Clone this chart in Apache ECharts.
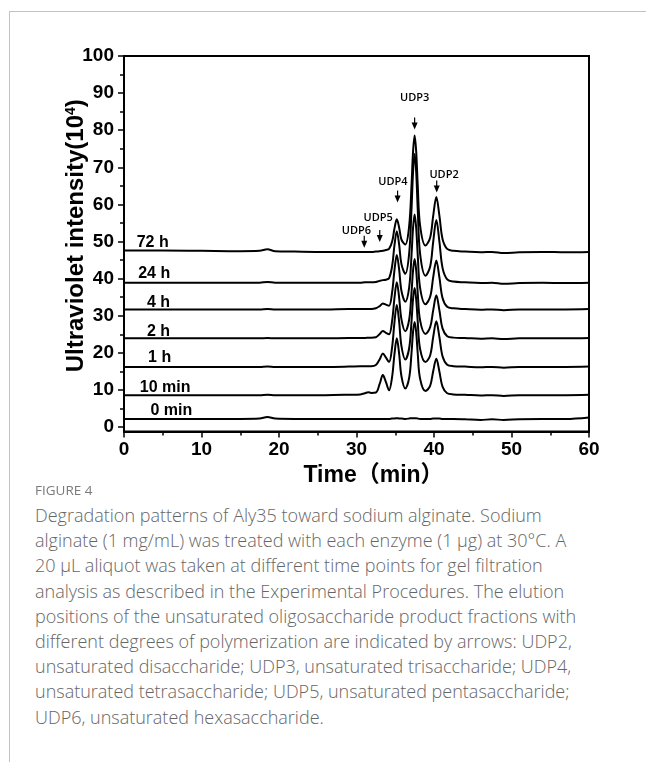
<!DOCTYPE html>
<html><head><meta charset="utf-8">
<script src="https://cdn.jsdelivr.net/npm/echarts@6/dist/echarts.min.js"></script>
<style>
html,body{margin:0;padding:0;background:#fff;width:646px;height:762px;overflow:hidden;}
#card{position:absolute;left:9px;top:11px;width:700px;height:800px;border-top:1px solid #c2c2c2;border-left:1px solid #c2c2c2;}
#chart{position:absolute;left:0;top:0;width:646px;height:500px;}
#fig{position:absolute;left:35px;top:481px;font:400 13.5px/18px 'Open Sans',sans-serif;color:#7a7a7a;}
#cap{position:absolute;left:35px;top:503px;font:300 18px/25.2px 'Open Sans',sans-serif;color:#666;white-space:nowrap;}
</style></head>
<body>
<div id="card"></div>
<div id="chart"></div>
<div id="fig">FIGURE 4</div>
<div id="cap">Degradation patterns of Aly35 toward sodium alginate. Sodium<br>alginate (1 mg/mL) was treated with each enzyme (1 μg) at 30°C. A<br>20 μL aliquot was taken at different time points for gel filtration<br>analysis as described in the Experimental Procedures. The elution<br>positions of the unsaturated oligosaccharide product fractions with<br>different degrees of polymerization are indicated by arrows: UDP2,<br>unsaturated disaccharide; UDP3, unsaturated trisaccharide; UDP4,<br>unsaturated tetrasaccharide; UDP5, unsaturated pentasaccharide;<br>UDP6, unsaturated hexasaccharide.</div>
<script>
// ---- data ----
const times = [0,5,10,15,17.5,18.5,19.5,22,26,29,30.5,31.1,31.5,31.9,32.5,33.0,33.4,33.8,34.2,34.6,34.9,35.2,35.5,35.8,36.3,36.8,37.1,37.3,37.5,37.7,37.9,38.2,38.9,39.5,39.9,40.3,40.7,41.1,41.7,42.5,44,46,47.5,49,51,54,57,60];
const trace0min = [2.2,2.2,2.2,2.2,2.3, 2.7,2.3,2.2,2.2,2.2, 2.2,2.2,2.2,2.2,2.2, 2.2,2.2,2.2,2.2,2.3, 2.3,2.4,2.3,2.3,2.2, 2.3,2.4,2.4,2.4,2.4, 2.3,2.2,2.2,2.2,2.3, 2.3,2.3,2.2,2.2,2.2, 2.1,1.9,2.1,1.9,2.1, 2.2,2.2,2.6];
const trace10min = [8.6,8.6,8.6,8.6,8.6, 8.7,8.6,8.6,8.6,8.7, 8.8,9.1,9.4,9.2,9.3, 11.7,14.0,12.1,9.9,13.6, 19.7,23.9,19.8,13.7,10.4, 13.3,20.0,25.7,28.3,25.6, 19.9,13.1,9.7,11.1,15.1, 18.4,14.9,10.9,9.1,8.8, 8.7,8.5,8.6,8.4,8.6, 8.6,8.6,8.7];
const trace1h = [16.2,16.2,16.2,16.2,16.2, 16.3,16.2,16.2,16.2,16.3, 16.4,16.4,16.4,16.4,16.7, 18.3,19.8,18.7,17.5,21.6, 28.3,32.9,28.4,21.8,18.2, 21.3,28.5,34.6,37.5,34.5, 28.5,21.1,17.5,19.3,24.3, 28.5,24.2,19.1,16.8,16.4, 16.3,16.1,16.2,16.0,16.2, 16.2,16.2,16.3];
const trace2h = [23.9,23.9,23.9,23.9,23.9, 24.0,23.9,23.9,23.9,24.0, 24.0,24.0,24.1,24.1,24.2, 25.1,25.9,25.4,25.0,28.7, 34.8,39.0,34.9,29.0,25.8, 29.0,36.3,42.3,45.3,42.3, 36.2,28.8,25.1,26.9,31.5, 35.5,31.4,26.6,24.5,24.1, 24.0,23.8,23.9,23.7,23.9, 23.9,23.9,24.0];
const trace4h = [31.7,31.7,31.7,31.7,31.7, 31.8,31.7,31.7,31.7,31.8, 31.8,31.8,31.8,31.8,32.0, 32.6,33.3,33.0,32.7,36.4, 42.3,46.4,42.5,36.7,33.8, 37.7,46.4,53.8,57.3,53.7, 46.4,37.6,33.1,35.1,40.4, 44.9,40.3,34.8,32.4,32.0, 31.8,31.6,31.7,31.5,31.7, 31.7,31.7,31.8];
const trace24h = [38.9,38.9,38.9,38.9,38.9, 39.1,38.9,38.9,38.9,38.9, 38.9,39.0,39.0,39.0,39.1, 39.4,39.6,39.7,40.1,43.4, 49.0,52.8,49.2,43.9,41.3, 46.9,58.8,68.8,73.6,68.8, 58.8,46.8,40.8,43.2,50.0, 55.8,49.9,42.9,39.8,39.2, 39.0,38.8,38.9,38.6,38.8, 38.9,38.8,38.9];
const trace72h = [47.6,47.6,47.5,47.4,47.5, 47.9,47.4,47.3,47.2,47.2, 47.2,47.2,47.2,47.2,47.3, 47.4,47.5,47.7,48.0,50.0, 53.5,56.0,53.8,50.5,49.2, 54.3,65.2,74.3,78.6,74.3, 65.2,54.4,48.9,51.0,57.0, 62.0,56.9,50.7,48.0,47.5, 47.3,47.1,47.2,46.9,47.1, 47.2,47.1,47.2];
const traceNames = ['0 min','10 min','1 h','2 h','4 h','24 h','72 h'];
const traceLabelT = [6.1, 5.3, 4.6, 4.45, 4.45, 3.9, 3.7];
const traceLabelV = [4.45, 10.7, 18.65, 25.8, 33.6, 41.4, 49.6];
const udpNames = ['UDP6','UDP5','UDP4','UDP3','UDP2'];
const udpArrowT = [31.0, 33.0, 35.3, 37.5, 40.35];
const udpArrowV = [48.3, 49.9, 60.5, 80.2, 63.2];
const udpLabelT = [30.0, 32.8, 34.7, 37.5, 41.3];
const udpLabelV = [53.0, 56.4, 66.1, 88.8, 68.1];
const xTicks = [0,10,20,30,40,50,60];
const yTicks = [0,10,20,30,40,50,60,70,80,90,100];
const yMinorTicks = [5,15,25,35,45,55,65,75,85,95];

// ---- chart ----
const FONT = "'Liberation Sans', Arial, 'Noto Sans CJK SC', sans-serif";
const traces = [trace0min, trace10min, trace1h, trace2h, trace4h, trace24h, trace72h];
const chart = echarts.init(document.getElementById('chart'));
const lineSeries = traces.map((vals, k) => ({
  type: 'line', name: traceNames[k], data: times.map((t, i) => [t, vals[i]]),
  showSymbol: false, symbol: 'none', smooth: 0.35, silent: true, z: 3,
  lineStyle: { color: '#000', width: 2 }
}));
const labelSeries = {
  type: 'custom', silent: true, z: 5,
  data: traceLabelT.map((t, i) => [t, traceLabelV[i]]),
  renderItem: (params, api) => {
    const p = api.coord([api.value(0), api.value(1)]);
    return { type: 'text', x: p[0], y: p[1], style: { text: traceNames[params.dataIndex], font: 'bold 16px ' + FONT, align: 'center', verticalAlign: 'middle', fill: '#000' } };
  }
};
const udpSeries = {
  type: 'custom', silent: true, z: 6,
  data: udpNames.map((n, i) => [udpArrowT[i], udpArrowV[i], udpLabelT[i], udpLabelV[i]]),
  renderItem: (params, api) => {
    const tip = api.coord([api.value(0), api.value(1)]);
    const lab = api.coord([api.value(2), api.value(3)]);
    return { type: 'group', children: [
      { type: 'line', shape: { x1: tip[0], y1: tip[1] - 12, x2: tip[0], y2: tip[1] - 6 }, style: { stroke: '#000', lineWidth: 1.2 } },
      { type: 'polygon', shape: { points: [[tip[0] - 3, tip[1] - 7], [tip[0] + 3, tip[1] - 7], [tip[0], tip[1]]] }, style: { fill: '#000' } },
      { type: 'text', x: lab[0], y: lab[1], style: { text: udpNames[params.dataIndex], font: '600 11px "Open Sans", sans-serif', align: 'center', verticalAlign: 'middle', fill: '#000' } }
    ] };
  }
};
chart.setOption({
  animation: false,
  grid: { left: 124, top: 56, width: 465, height: 375.5, show: true, borderColor: '#000', borderWidth: 2 },
  xAxis: {
    type: 'value', min: 0, max: 60, interval: 10,
    axisLine: { show: true, onZero: false, lineStyle: { color: '#000', width: 2 } },
    axisTick: { show: true, inside: false, length: 6, lineStyle: { color: '#000', width: 1.5 } },
    minorTick: { show: true, splitNumber: 2, length: 4, lineStyle: { color: '#000', width: 1.5 } },
    splitLine: { show: false },
    axisLabel: { margin: 9, color: '#000', fontSize: 19, fontWeight: 'bold', fontFamily: FONT, formatter: v => xTicks.includes(v) ? String(v) : '' },
    name: 'Time（min）', nameLocation: 'middle', nameGap: 33, nameMoveOverlap: false,
    nameTextStyle: { color: '#000', fontSize: 23, fontWeight: 'bold', fontFamily: FONT, padding: [0, 0, 0, 34] }
  },
  yAxis: [{
    type: 'value', min: -1.2, max: 100,
    axisLine: { show: true, onZero: false, lineStyle: { color: '#000', width: 2 } },
    axisTick: { show: true, inside: false, length: 6, customValues: yTicks, lineStyle: { color: '#000', width: 1.5 } },
    axisLabel: { margin: 10, customValues: yTicks, color: '#000', fontSize: 19, fontWeight: 'bold', fontFamily: FONT },
    splitLine: { show: false },
    name: 'Ultraviolet intensity(10{sup|4})', nameLocation: 'middle', nameGap: 36, nameRotate: 90, nameMoveOverlap: false,
    nameTextStyle: { color: '#000', fontSize: 24, fontWeight: 'bold', fontFamily: FONT, padding: [0, 0, 0, 16],
      rich: { sup: { fontSize: 14, fontWeight: 'bold', fontFamily: FONT, color: '#000', verticalAlign: 'top', padding: [0, 0, 10, 0] } } }
  }, {
    type: 'value', min: -1.2, max: 100, position: 'left', offset: 0,
    axisLine: { show: false },
    axisTick: { show: true, inside: false, length: 4, customValues: yMinorTicks, lineStyle: { color: '#000', width: 1.5 } },
    axisLabel: { show: false }, splitLine: { show: false }
  }],
  series: [...lineSeries, labelSeries, udpSeries]
});
</script>
</body></html>
